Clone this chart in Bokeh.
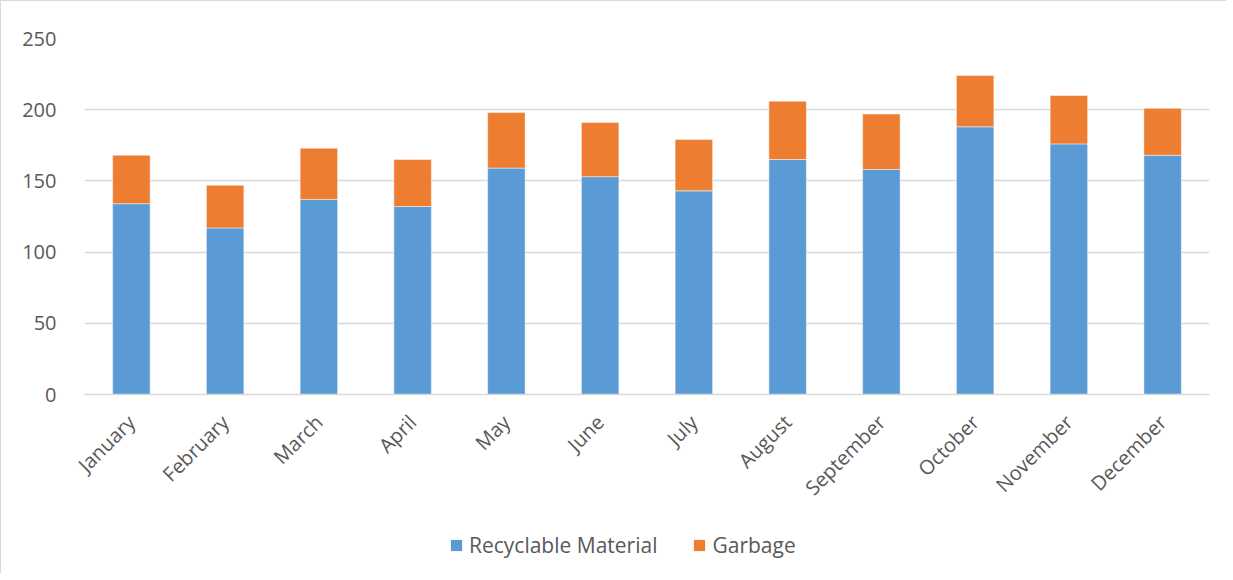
import math
from bokeh.plotting import figure
from bokeh.layouts import column
from bokeh.models import ColumnDataSource, FactorRange, Range1d, Legend, LegendItem, FixedTicker
from bokeh.embed import file_html
from bokeh.resources import INLINE

months = ["January", "February", "March", "April", "May", "June", "July",
          "August", "September", "October", "November", "December"]
recyclable = [134, 117, 137, 132, 159, 153, 143, 165, 158, 188, 176, 168]
garbage = [34, 30, 36, 33, 39, 38, 36, 41, 39, 36, 34, 33]
series = ["Recyclable Material", "Garbage"]
colors = ["#5B9BD5", "#ED7D31"]
y_ticks = [0, 50, 100, 150, 200, 250]

src = ColumnDataSource(data={"month": months, "Recyclable Material": recyclable, "Garbage": garbage})

FONT = "Open Sans"
GREY = "#595959"
p = figure(x_range=FactorRange(*months), y_range=Range1d(0, 250),
           width=1225, height=520, output_backend="svg", toolbar_location=None,
           min_border_left=83, min_border_right=17, min_border_top=37, min_border_bottom=127)
p.outline_line_color = None
p.background_fill_color = "white"
p.border_fill_color = "white"

r = p.vbar_stack(series, x="month", width=0.4, color=colors, source=src,
                 line_color="white", line_alpha=0.6, line_width=0.8)

p.yaxis.ticker = FixedTicker(ticks=y_ticks)
p.yaxis.axis_line_color = None
p.yaxis.major_tick_line_color = None
p.yaxis.minor_tick_line_color = None
p.yaxis.major_label_text_font = FONT
p.yaxis.major_label_text_font_size = "20px"
p.yaxis.major_label_text_color = GREY
p.yaxis.major_label_standoff = 22

p.xaxis.axis_line_color = "#d9d9d9"
p.xaxis.axis_line_width = 1.5
p.xaxis.major_tick_line_color = None
p.xaxis.major_label_orientation = math.pi / 4
p.xaxis.major_label_text_font = FONT
p.xaxis.major_label_text_font_size = "20px"
p.xaxis.major_label_text_color = GREY
p.xaxis.major_label_standoff = 18

p.xgrid.grid_line_color = None
p.ygrid.grid_line_color = "#d9d9d9"
p.ygrid.grid_line_width = 1.5

# legend strip: same stacked series placed out of view, used only for legend glyphs
lg = figure(width=1225, height=52, output_backend="svg", toolbar_location=None,
            x_range=FactorRange(*months), y_range=Range1d(5000, 5001),
            min_border_left=0, min_border_right=0, min_border_top=0, min_border_bottom=0)
lg.axis.visible = False
lg.grid.visible = False
lg.outline_line_color = None
lg.border_fill_color = "white"
lr = lg.vbar_stack(series, x="month", width=0.4, color=colors, source=src, line_color=None)

legend = Legend(items=[LegendItem(label=s, renderers=[lr[i]]) for i, s in enumerate(series)],
                location=(365, 14), orientation="horizontal")
legend.label_text_font = FONT
legend.label_text_font_size = "21px"
legend.label_text_color = GREY
legend.glyph_width = 14
legend.glyph_height = 14
legend.spacing = 35
legend.label_standoff = 6
legend.margin = 0
legend.padding = 0
legend.border_line_color = None
legend.background_fill_alpha = 0
lg.add_layout(legend, "center")

layout = column(p, lg, spacing=0)
layout.styles = {"border-left": "1px solid #d9d9d9", "border-top": "1px solid #d9d9d9"}

open("out.html", "w").write(file_html(layout, INLINE))
